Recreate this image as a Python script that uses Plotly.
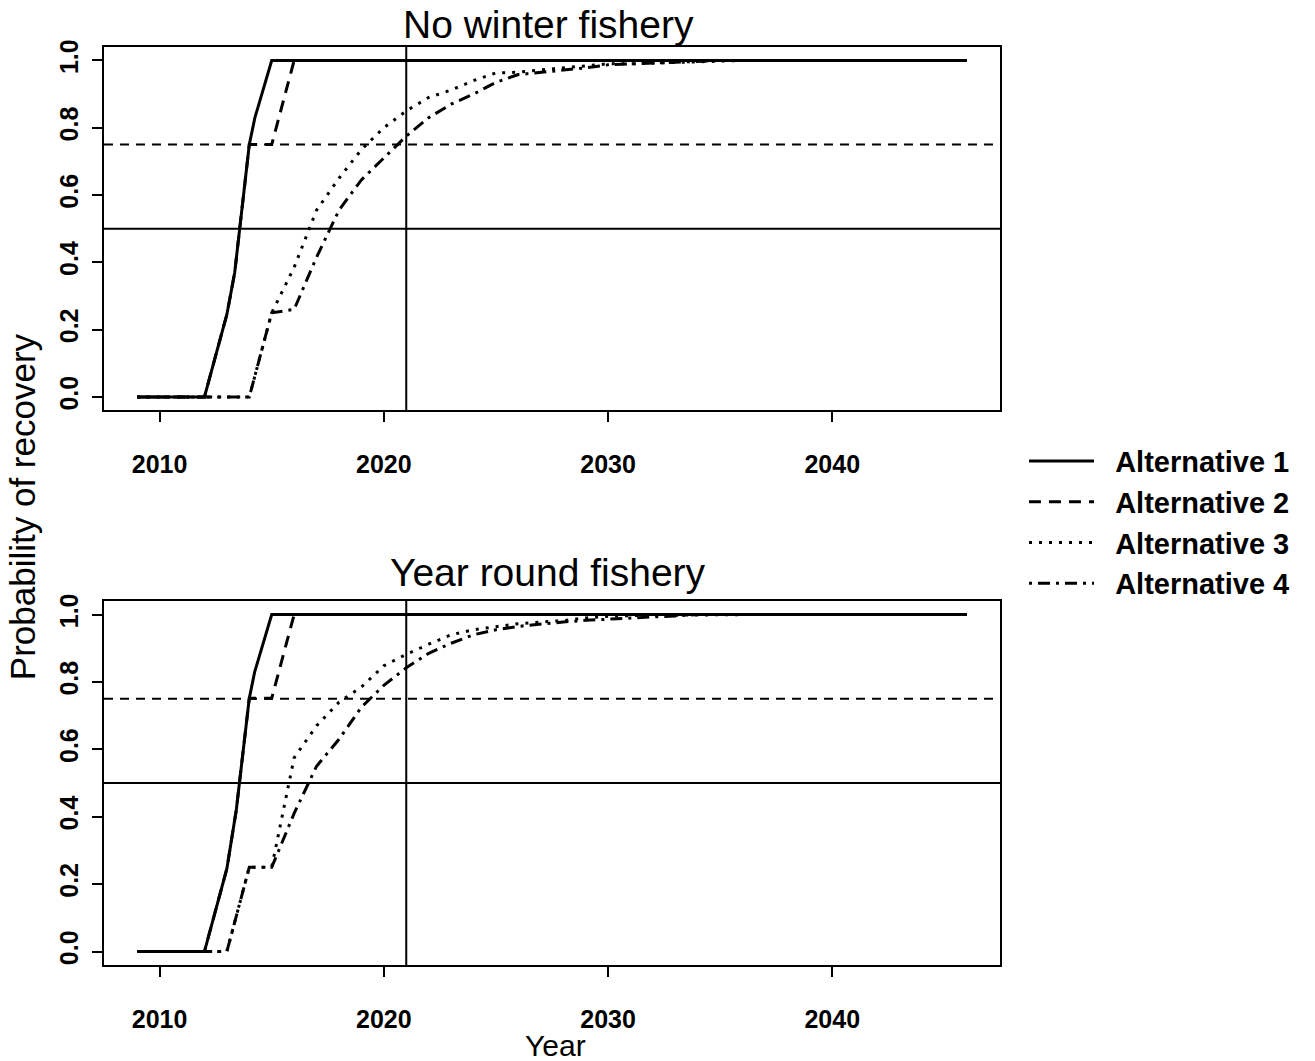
import plotly.graph_objects as go

# ---------------- data ----------------
years = [2009, 2010, 2011, 2012, 2013, 2014, 2015, 2016, 2017, 2018, 2019,
         2020, 2021, 2022, 2023, 2024, 2025, 2026, 2027, 2028, 2029, 2030,
         2031, 2032, 2033, 2034, 2035, 2036, 2037, 2038, 2039, 2040, 2041,
         2042, 2043, 2044, 2045, 2046]

# Panel 1: No winter fishery
nw_alt1_x = [2009, 2010, 2011, 2012, 2013, 2013.35, 2014, 2014.25, 2015, 2016,
             2017, 2018, 2019, 2020, 2021, 2022, 2023, 2024, 2025, 2026, 2027,
             2028, 2029, 2030, 2031, 2032, 2033, 2034, 2035, 2036, 2037, 2038,
             2039, 2040, 2041, 2042, 2043, 2044, 2045, 2046]
nw_alt1_y = [0, 0, 0, 0, 0.245, 0.37, 0.75, 0.83, 1, 1,
             1, 1, 1, 1, 1, 1, 1, 1, 1, 1, 1,
             1, 1, 1, 1, 1, 1, 1, 1, 1, 1, 1,
             1, 1, 1, 1, 1, 1, 1, 1]
nw_alt2_x = [2009, 2010, 2011, 2012, 2013, 2013.35, 2014, 2015, 2016,
             2017, 2018, 2019, 2020, 2021, 2022, 2023, 2024, 2025, 2026, 2027,
             2028, 2029, 2030, 2031, 2032, 2033, 2034, 2035, 2036, 2037, 2038,
             2039, 2040, 2041, 2042, 2043, 2044, 2045, 2046]
nw_alt2_y = [0, 0, 0, 0, 0.245, 0.37, 0.75, 0.75, 1,
             1, 1, 1, 1, 1, 1, 1, 1, 1, 1, 1,
             1, 1, 1, 1, 1, 1, 1, 1, 1, 1, 1,
             1, 1, 1, 1, 1, 1, 1, 1]
nw_alt3_y = [0, 0, 0, 0, 0, 0, 0.25, 0.385, 0.555, 0.65, 0.735,
             0.80, 0.85, 0.89, 0.912, 0.94, 0.963, 0.965, 0.972, 0.978, 0.985, 0.99,
             0.99, 0.992, 0.994, 0.997, 1, 1, 1, 1, 1, 1, 1,
             1, 1, 1, 1, 1]
nw_alt4_y = [0, 0, 0, 0, 0, 0, 0.25, 0.26, 0.415, 0.555, 0.645,
             0.71, 0.775, 0.83, 0.87, 0.90, 0.935, 0.958, 0.965, 0.97, 0.978, 0.987,
             0.99, 0.993, 0.995, 0.998, 1, 1, 1, 1, 1, 1, 1,
             1, 1, 1, 1, 1]

# Panel 2: Year round fishery
yr_alt1_x = [2009, 2010, 2011, 2012, 2013, 2013.42, 2014, 2014.24, 2015, 2016,
             2017, 2018, 2019, 2020, 2021, 2022, 2023, 2024, 2025, 2026, 2027,
             2028, 2029, 2030, 2031, 2032, 2033, 2034, 2035, 2036, 2037, 2038,
             2039, 2040, 2041, 2042, 2043, 2044, 2045, 2046]
yr_alt1_y = [0, 0, 0, 0, 0.246, 0.42, 0.752, 0.83, 1, 1,
             1, 1, 1, 1, 1, 1, 1, 1, 1, 1, 1,
             1, 1, 1, 1, 1, 1, 1, 1, 1, 1, 1,
             1, 1, 1, 1, 1, 1, 1, 1]
yr_alt2_x = [2009, 2010, 2011, 2012, 2013, 2013.42, 2014, 2015, 2016,
             2017, 2018, 2019, 2020, 2021, 2022, 2023, 2024, 2025, 2026, 2027,
             2028, 2029, 2030, 2031, 2032, 2033, 2034, 2035, 2036, 2037, 2038,
             2039, 2040, 2041, 2042, 2043, 2044, 2045, 2046]
yr_alt2_y = [0, 0, 0, 0, 0.246, 0.42, 0.752, 0.752, 1,
             1, 1, 1, 1, 1, 1, 1, 1, 1, 1, 1,
             1, 1, 1, 1, 1, 1, 1, 1, 1, 1, 1,
             1, 1, 1, 1, 1, 1, 1, 1]
yr_alt3_y = [0, 0, 0, 0, 0, 0.25, 0.25, 0.575, 0.67, 0.74, 0.785,
             0.848, 0.882, 0.912, 0.94, 0.955, 0.965, 0.973, 0.978, 0.982, 0.99, 0.995,
             0.997, 0.998, 0.999, 1, 1, 1, 1, 1, 1, 1, 1,
             1, 1, 1, 1, 1]
yr_alt4_y = [0, 0, 0, 0, 0, 0.25, 0.25, 0.41, 0.55, 0.63, 0.725,
             0.79, 0.842, 0.885, 0.915, 0.94, 0.955, 0.965, 0.972, 0.978, 0.983, 0.987,
             0.99, 0.993, 0.996, 1, 1, 1, 1, 1, 1, 1, 1,
             1, 1, 1, 1, 1]

series_names = ["Alternative 1", "Alternative 2", "Alternative 3", "Alternative 4"]
panel_titles = ["No winter fishery", "Year round fishery"]
x_ticks = [2010, 2020, 2030, 2040]
y_ticks = [0.0, 0.2, 0.4, 0.6, 0.8, 1.0]
ref_year = 2021
ref_levels = [0.5, 0.75]

# ---------------- styling ----------------
dashes = ["solid", "12px,8px", "3px,7px", "3px,6px,12px,6px"]
FONT = "Liberation Sans, Arial, sans-serif"
NBSP = "\u00a0"

fig = go.Figure()

panels = [
    ("x", "y", [(nw_alt1_x, nw_alt1_y), (nw_alt2_x, nw_alt2_y),
                (years, nw_alt3_y), (years, nw_alt4_y)]),
    ("x2", "y2", [(yr_alt1_x, yr_alt1_y), (yr_alt2_x, yr_alt2_y),
                  (years, yr_alt3_y), (years, yr_alt4_y)]),
]

for pi, (xa, ya, series) in enumerate(panels):
    for si, (xs, ys) in enumerate(series):
        fig.add_trace(go.Scatter(
            x=xs, y=ys, mode="lines", xaxis=xa, yaxis=ya,
            name=NBSP * 2 + series_names[si], legendgroup=series_names[si],
            showlegend=(pi == 0),
            line=dict(color="black", width=3, dash=dashes[si]),
        ))

axis_common = dict(
    showline=True, mirror=True, linecolor="black", linewidth=2,
    ticks="outside", ticklen=10, tickwidth=2, tickcolor="black",
    showgrid=False, zeroline=False,
    tickfont=dict(family=FONT, size=25, color="black", weight="bold"),
)
xaxis_common = dict(axis_common, range=[2007.52, 2047.48], tickvals=x_ticks,
                    ticklabelstandoff=21)
yaxis_common = dict(axis_common, range=[-0.04, 1.04], tickvals=y_ticks,
                    tickformat=".1f", tickangle=-90, ticklabelstandoff=4)

fig.update_layout(
    width=1315, height=1061,
    margin=dict(l=104, r=315, t=47, b=96),
    paper_bgcolor="white", plot_bgcolor="white",
    xaxis=dict(xaxis_common, anchor="y", domain=[0, 1]),
    yaxis=dict(yaxis_common, anchor="x", domain=[0.6042, 1]),
    xaxis2=dict(xaxis_common, anchor="y2", domain=[0, 1]),
    yaxis2=dict(yaxis_common, anchor="x2", domain=[0, 0.3964]),
    showlegend=True,
    legend=dict(
        x=1.0268, xanchor="left", y=0.5766, yanchor="top",
        font=dict(family=FONT, size=29, color="black", weight="bold"),
        itemwidth=65, traceorder="grouped", tracegroupgap=0,
        bgcolor="rgba(0,0,0,0)",
    ),
)

# reference lines
for xa, ya in [("x", "y"), ("x2", "y2")]:
    fig.add_shape(type="line", xref=f"{xa} domain", yref=ya, x0=0, x1=1,
                  y0=ref_levels[0], y1=ref_levels[0],
                  line=dict(color="black", width=2))
    fig.add_shape(type="line", xref=f"{xa} domain", yref=ya, x0=0, x1=1,
                  y0=ref_levels[1], y1=ref_levels[1],
                  line=dict(color="black", width=2, dash="9px,7px"))
    fig.add_shape(type="line", xref=xa, yref=f"{ya} domain",
                  x0=ref_year, x1=ref_year, y0=0, y1=1,
                  line=dict(color="black", width=2))

# titles
fig.add_annotation(text=panel_titles[0], xref="paper", yref="paper",
                   x=0.496, y=1.0245, showarrow=False, yanchor="middle",
                   font=dict(family=FONT, size=39, color="black"))
fig.add_annotation(text=panel_titles[1], xref="paper", yref="paper",
                   x=0.496, y=0.4278, showarrow=False, yanchor="middle",
                   font=dict(family=FONT, size=39, color="black"))
fig.add_annotation(text="Year", xref="paper", yref="paper",
                   x=0.504, y=-0.0877, showarrow=False, yanchor="middle",
                   font=dict(family=FONT, size=30, color="black"))
fig.add_annotation(text="Probability of recovery", xref="paper", yref="paper",
                   x=-0.0916, y=0.4997, showarrow=False, textangle=-90,
                   xanchor="center", yanchor="middle",
                   font=dict(family=FONT, size=35, color="black"))

fig.write_html(
    "out.html",
    config={"displayModeBar": False},
    post_script="document.body.style.margin='0';"
                "document.body.style.overflow='hidden';",
)
